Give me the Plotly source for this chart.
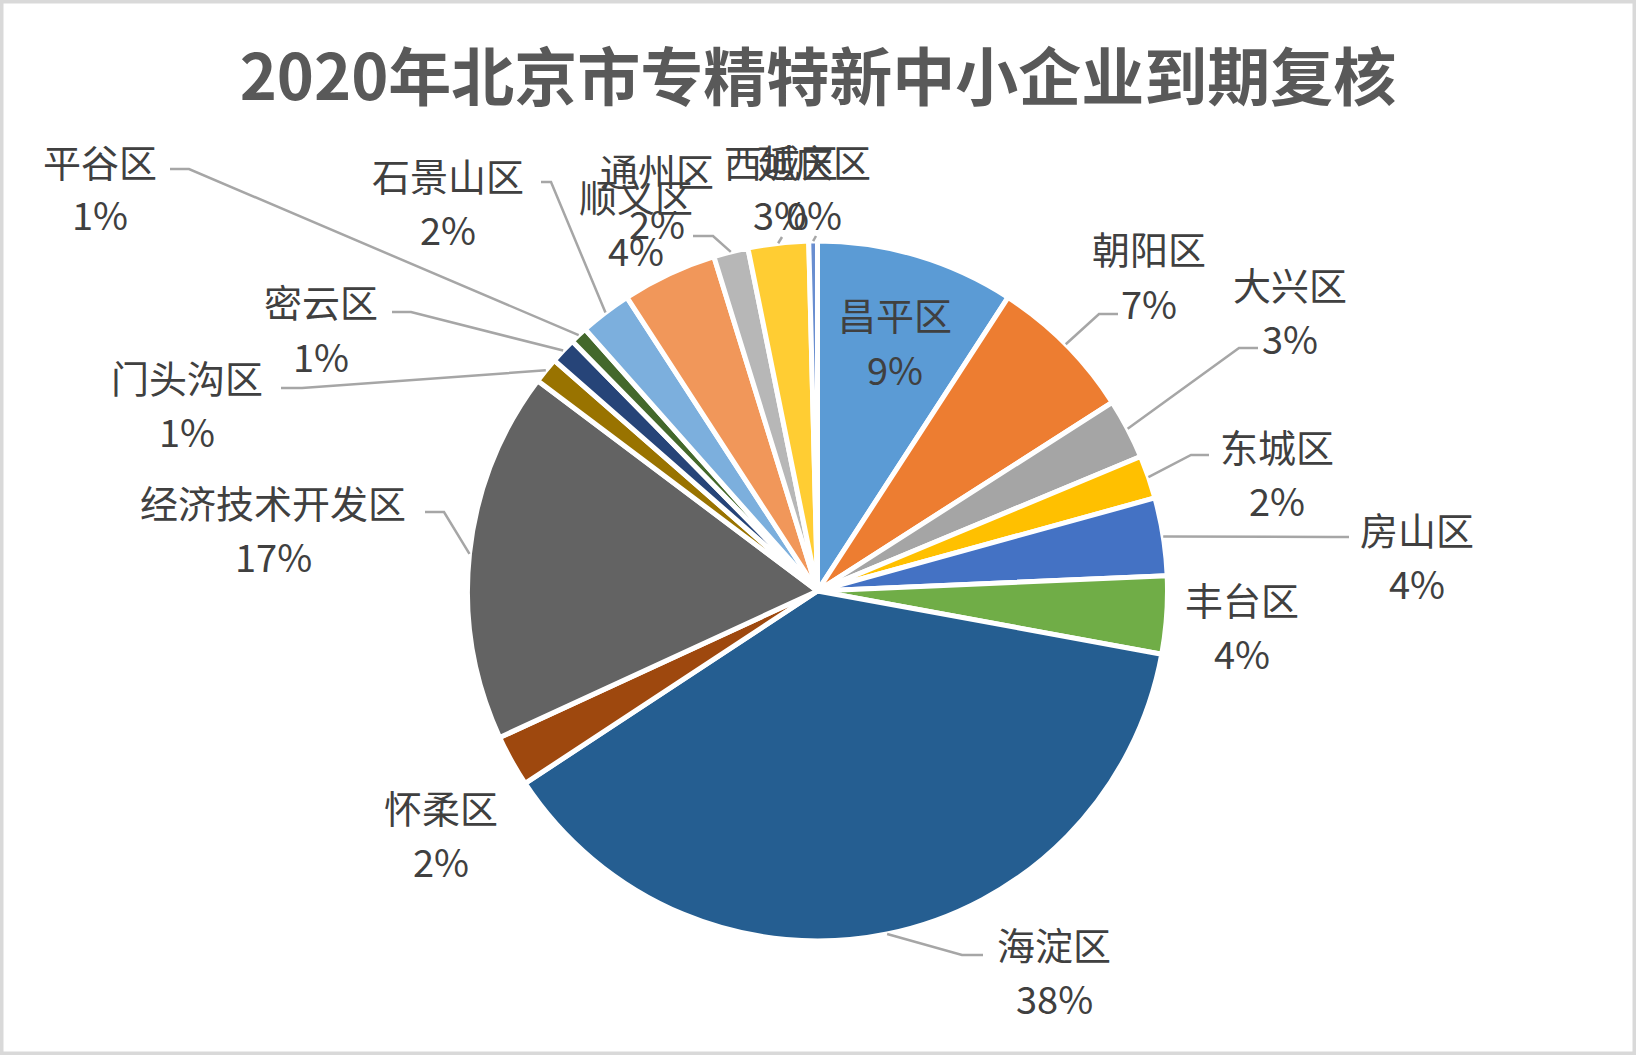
import math
import plotly.graph_objects as go

# 数据
districts = ["昌平区", "朝阳区", "大兴区", "东城区", "房山区", "丰台区", "海淀区", "怀柔区",
             "经济技术开发区", "门头沟区", "密云区", "平谷区", "石景山区", "顺义区", "通州区",
             "西城区", "延庆区"]
counts = [23, 17, 7, 5, 9, 9, 95, 6, 43, 3, 3, 2, 6, 11, 4, 7, 1]
colors = ["#5B9BD5", "#ED7D31", "#A5A5A5", "#FFC000", "#4472C4", "#70AD47", "#255E91",
          "#9E480E", "#636363", "#997300", "#264478", "#43682B", "#7CAFDD", "#F1975A",
          "#B7B7B7", "#FFCD33", "#698ED0"]
title = "2020年北京市专精特新中小企业到期复核"

# 画布与饼图位置 (像素)
W, H = 1636, 1055
cx, cy, R = 817.5, 591, 350

# 标签位置: 中心x, 名称y (百分比在下一行)
label_pos = [(895, 314), (1149, 248), (1290, 283), (1277, 445), (1417, 528), (1242, 598),
             (1054, 943), (441, 806), (273, 501), (187, 376), (321, 301), (100, 160),
             (448, 174), (636, 195), (657, 169), (781, 160), (814, 160)]
# 引导线: 拐点和终点, None 表示无引导线
leaders = [None, ((1099, 314), (1118, 314)), ((1239, 348), (1258, 348)),
           ((1191, 455), (1209, 455)), ((1333, 537), (1349, 537)), None,
           ((962, 955), (983, 955)), None, ((444, 512), (425, 512)),
           ((302, 388), (281, 388)), ((411, 312), (392, 312)), ((189, 169), (170, 169)),
           ((551, 182), (541, 182)), None, ((713, 236), (693, 236)),
           ((782, 237), (782, 237)), ((816, 236), (816, 236))]


def px(x, y):
    return x / W, 1 - y / H


fig = go.Figure(go.Pie(
    labels=districts,
    values=counts,
    sort=False,
    direction="clockwise",
    rotation=0,
    textinfo="none",
    hoverinfo="label+value+percent",
    marker=dict(colors=colors, line=dict(color="white", width=5)),
    domain=dict(x=[(cx - R) / W, (cx + R) / W], y=[1 - (cy + R) / H, 1 - (cy - R) / H]),
    showlegend=False,
))

total = sum(counts)
font = "Noto Sans CJK SC"
annotations = []
shapes = []
cum = 0
for name, v, pos, ld in zip(districts, counts, label_pos, leaders):
    mid = (cum + v / 2) / total * 2 * math.pi
    cum += v
    pct = "%d%%" % round(v / total * 100)
    x, y = px(pos[0], pos[1])
    annotations.append(dict(x=x, y=y, xref="paper", yref="paper", text=name, showarrow=False,
                            xanchor="center", yanchor="middle",
                            font=dict(family=font, size=38, color="#404040")))
    x, y = px(pos[0], pos[1] + 54)
    annotations.append(dict(x=x, y=y, xref="paper", yref="paper", text=pct, showarrow=False,
                            xanchor="center", yanchor="middle",
                            font=dict(family=font, size=38, color="#404040")))
    if ld:
        s = px(cx + R * math.sin(mid), cy - R * math.cos(mid))
        e1 = px(*ld[0])
        e2 = px(*ld[1])
        path = "M %f %f L %f %f L %f %f" % (s[0], s[1], e1[0], e1[1], e2[0], e2[1])
        shapes.append(dict(type="path", xref="paper", yref="paper", path=path,
                           line=dict(color="#A6A6A6", width=2.5)))

# 外框
shapes.append(dict(type="rect", xref="paper", yref="paper", x0=0, y0=0, x1=1, y1=1,
                   line=dict(color="#D9D9D9", width=7)))

fig.update_layout(
    width=W, height=H,
    margin=dict(l=0, r=0, t=0, b=0),
    paper_bgcolor="white",
    title=dict(text=title, x=0.5, xanchor="center", y=1 - 78 / H, yanchor="middle",
               font=dict(family=font, size=63, color="#595959", weight="bold")),
    annotations=annotations,
    shapes=shapes,
)

fig.write_html("out.html", config={"displayModeBar": False},
               post_script="document.body.style.margin='0';")
